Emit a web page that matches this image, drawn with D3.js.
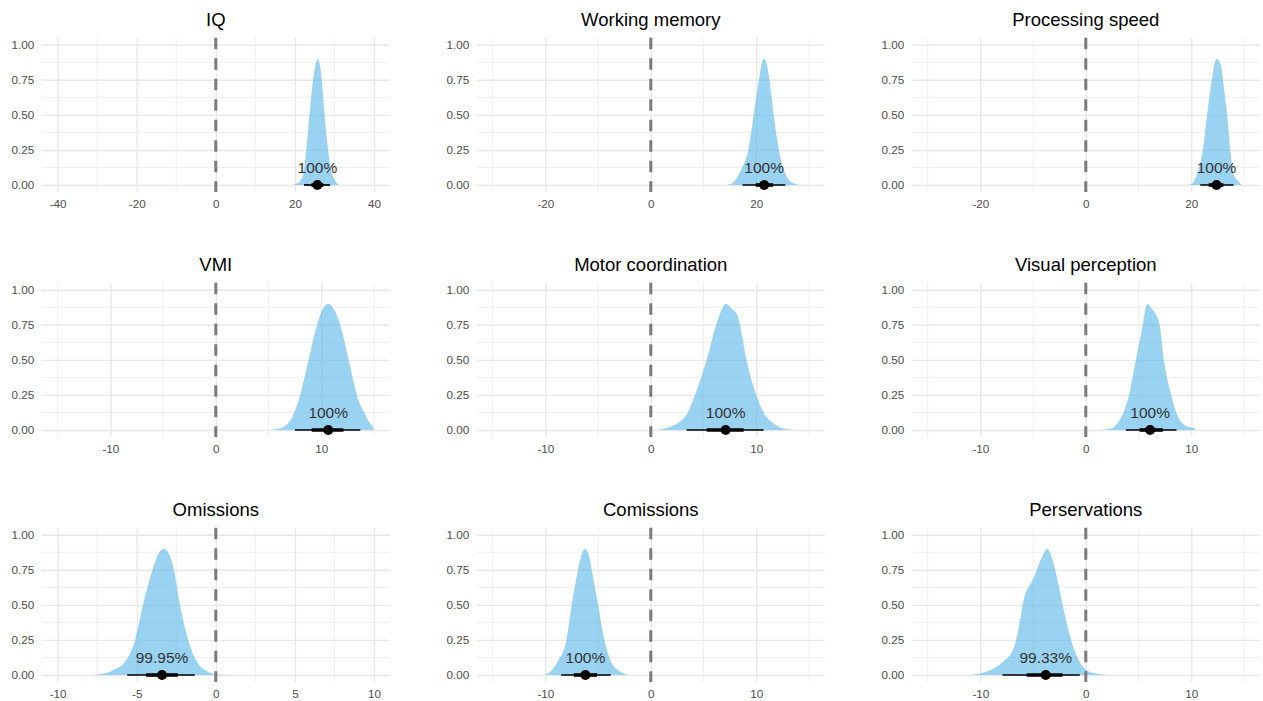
<!DOCTYPE html>
<html>
<head>
<meta charset="utf-8">
<script src="https://cdn.jsdelivr.net/npm/d3@7"></script>
<style>
  body { margin: 0; background: #fff; }
  text { font-family: "Liberation Sans", Arial, sans-serif; }
  .tick-label { font-size: 11.7px; fill: #4d4d4d; }
  .panel-title { font-size: 18.5px; fill: #000; }
  .prob-label { font-size: 15.5px; fill: #333; }
</style>
</head>
<body>
<script>
//panel titles
const titles = ['IQ', 'Working memory', 'Processing speed',
  'VMI', 'Motor coordination', 'Visual perception',
  'Omissions', 'Comissions', 'Perservations']

//half width of each x-axis (symmetric around 0)
const xLimits = [44, 33, 33, 16.5, 16.5, 16.5, 11, 16.5, 16.5]

//x-axis tick labels and minor gridlines
const xTicks = [
  [-40, -20, 0, 20, 40], [-20, 0, 20], [-20, 0, 20],
  [-10, 0, 10], [-10, 0, 10], [-10, 0, 10],
  [-10, -5, 0, 5, 10], [-10, 0, 10], [-10, 0, 10]
]
const xMinor = [
  [-30, -10, 10, 30], [-30, -10, 10, 30], [-30, -10, 10, 30],
  [-15, -5, 5, 15], [-15, -5, 5, 15], [-15, -5, 5, 15],
  [-7.5, -2.5, 2.5, 7.5], [-15, -5, 5, 15], [-15, -5, 5, 15]
]

//y-axis
const yTicks = [0, 0.25, 0.5, 0.75, 1]
const yMinor = [0.125, 0.375, 0.625, 0.875]

//posterior densities [x, scaled density]
const densities = [
  [[19.5, 0], [20.5, 0.01], [21.4, 0.03], [22.2, 0.09], [22.9, 0.25], [23.7, 0.5], [24.6, 0.75], [25.3, 0.87], [25.85, 0.9], [26.3, 0.86], [26.8, 0.75], [27.5, 0.5], [28.4, 0.25], [29.2, 0.1], [30.0, 0.04], [31.2, 0]],
  [[14.2, 0], [15.3, 0.01], [16.1, 0.04], [17.4, 0.13], [18.5, 0.25], [19.5, 0.5], [20.5, 0.75], [21.0, 0.86], [21.5, 0.9], [22.0, 0.86], [22.5, 0.75], [23.3, 0.5], [24.3, 0.25], [25.2, 0.11], [26.1, 0.04], [27.2, 0.01], [28.3, 0]],
  [[19.4, 0], [20.2, 0.01], [20.8, 0.05], [21.6, 0.14], [22.2, 0.25], [23.0, 0.5], [23.9, 0.75], [24.4, 0.86], [24.8, 0.9], [25.3, 0.88], [25.7, 0.84], [26.0, 0.75], [26.8, 0.5], [27.4, 0.25], [28.0, 0.08], [28.8, 0.03], [29.6, 0]],
  [[5.0, 0], [6.0, 0.01], [6.6, 0.03], [7.3, 0.1], [8.0, 0.25], [8.8, 0.5], [9.6, 0.75], [10.2, 0.87], [10.66, 0.9], [11.2, 0.86], [11.8, 0.75], [12.6, 0.5], [13.2, 0.3], [13.5, 0.22], [14.1, 0.12], [14.6, 0.05], [14.95, 0.015], [15.0, 0]],
  [[0.6, 0], [1.7, 0.02], [2.6, 0.05], [3.3, 0.1], [4.2, 0.25], [5.3, 0.5], [6.2, 0.75], [6.8, 0.87], [7.1, 0.9], [7.6, 0.87], [8.2, 0.82], [8.45, 0.75], [9.07, 0.5], [10.0, 0.25], [10.9, 0.1], [11.6, 0.05], [12.4, 0.015], [13.7, 0]],
  [[1.3, 0], [2.4, 0.01], [2.8, 0.03], [3.2, 0.07], [3.6, 0.13], [4.1, 0.25], [4.75, 0.5], [5.4, 0.75], [5.65, 0.86], [5.85, 0.9], [6.2, 0.87], [6.5, 0.84], [7.0, 0.75], [7.4, 0.5], [8.1, 0.25], [8.7, 0.1], [9.5, 0.03], [10.3, 0.01], [10.4, 0]],
  [[-7.85, 0], [-7.1, 0.01], [-6.4, 0.04], [-5.85, 0.08], [-5.1, 0.25], [-4.6, 0.5], [-4.0, 0.75], [-3.6, 0.87], [-3.26, 0.9], [-2.95, 0.86], [-2.65, 0.75], [-2.27, 0.5], [-1.75, 0.25], [-1.22, 0.1], [-0.6, 0.03], [0, 0.006], [1.1, 0]],
  [[-10.2, 0], [-9.6, 0.02], [-8.8, 0.1], [-8.0, 0.25], [-7.5, 0.5], [-6.9, 0.75], [-6.55, 0.86], [-6.24, 0.9], [-5.9, 0.86], [-5.6, 0.75], [-5.0, 0.5], [-4.4, 0.25], [-3.8, 0.1], [-3.2, 0.04], [-2.8, 0.02], [-2.05, 0]],
  [[-11.1, 0], [-10.0, 0.01], [-9.2, 0.03], [-7.9, 0.09], [-6.8, 0.2], [-6.3, 0.36], [-5.85, 0.55], [-5.3, 0.64], [-4.9, 0.7], [-4.1, 0.85], [-3.64, 0.9], [-3.2, 0.83], [-2.6, 0.65], [-2.2, 0.5], [-1.4, 0.25], [-0.63, 0.1], [0.16, 0.03], [0.95, 0.01], [2.06, 0]]
]

//point estimates and intervals (66% thick, 95% thin)
const points = [25.7, 21.5, 24.8, 10.66, 7.1, 6.1, -3.4, -6.2, -3.8]
const thickIntervals = [[24.2, 27.2], [19.9, 23.2], [23.3, 26.1], [9.1, 12.1], [5.3, 8.8], [5.1, 7.3], [-4.4, -2.4], [-7.3, -5.1], [-5.6, -2.2]]
const thinIntervals = [[22.3, 28.9], [17.4, 25.5], [21.7, 28.0], [7.5, 13.7], [3.4, 10.7], [3.8, 8.6], [-5.6, -1.33], [-8.5, -3.8], [-7.9, -0.57]]

//probability of direction labels
const probLabels = ['100%', '100%', '100%', '100%', '100%', '100%', '99.95%', '100%', '99.33%']

const width = 1263
const height = 701

//panel geometry
const panelWidth = 348
const colStep = 435
const rowStep = 245
const firstLeft = 41.8
const zeroY = 185
const unitY = 140.3

const fillColor = '#56B4E9'
const gridColor = '#e8e8e8'

const svg = d3.select('body')
  .append('svg')
  .attr('width', width)
  .attr('height', height)

titles.forEach((title, i) => {
  const col = i % 3
  const row = Math.floor(i / 3)
  const left = firstLeft + col * colStep
  const y0 = zeroY + row * rowStep

  //=================SCALES===================
  const xScale = d3.scaleLinear()
    .domain([-xLimits[i], xLimits[i]])
    .range([left, left + panelWidth])

  const yScale = d3.scaleLinear()
    .domain([0, 1])
    .range([y0, y0 - unitY])

  const top = yScale(1.05)
  const bottom = yScale(-0.05)

  const g = svg.append('g').attr('class', 'panel')

  //=================GRID===================
  g.selectAll('.y-minor')
    .data(yMinor)
    .enter()
    .append('line')
    .attr('x1', left).attr('x2', left + panelWidth)
    .attr('y1', d => yScale(d)).attr('y2', d => yScale(d))
    .attr('stroke', gridColor).attr('stroke-width', 0.7)

  g.selectAll('.x-minor')
    .data(xMinor[i])
    .enter()
    .append('line')
    .attr('x1', d => xScale(d)).attr('x2', d => xScale(d))
    .attr('y1', top).attr('y2', bottom)
    .attr('stroke', gridColor).attr('stroke-width', 0.7)

  //axes drawn with d3 and restyled as grid lines
  const xAxis = d3.axisBottom(xScale)
    .tickValues(xTicks[i])
    .tickFormat(d3.format('d'))
    .tickSize(-(bottom - top))
    .tickPadding(7)

  const xAxisGroup = g.append('g')
    .attr('transform', `translate(0,${bottom})`)
    .call(xAxis)
  xAxisGroup.select('.domain').remove()
  xAxisGroup.selectAll('line').attr('stroke', gridColor).attr('stroke-width', 1.4)
  xAxisGroup.selectAll('text')
    .attr('class', 'tick-label')
    .attr('fill', '#4d4d4d')
    .attr('dy', null)
    .attr('y', 15.5)
    .text(d => d < 0 ? '-' + Math.abs(d) : d)

  const yAxis = d3.axisLeft(yScale)
    .tickValues(yTicks)
    .tickFormat(d3.format('.2f'))
    .tickSize(-panelWidth)
    .tickPadding(7.5)

  const yAxisGroup = g.append('g')
    .attr('transform', `translate(${left},0)`)
    .call(yAxis)
  yAxisGroup.select('.domain').remove()
  yAxisGroup.selectAll('line').attr('stroke', gridColor).attr('stroke-width', 1.4)
  yAxisGroup.selectAll('text').attr('class', 'tick-label').attr('fill', '#4d4d4d')

  //=================DENSITY===================
  const area = d3.area()
    .x(d => xScale(d[0]))
    .y0(yScale(0))
    .y1(d => yScale(d[1]))
    .curve(d3.curveMonotoneX)

  g.append('path')
    .datum(densities[i])
    .attr('d', area)
    .attr('fill', fillColor)
    .attr('fill-opacity', 0.6)

  //dashed reference line at zero
  g.append('line')
    .attr('x1', xScale(0)).attr('x2', xScale(0))
    .attr('y1', top).attr('y2', bottom)
    .attr('stroke', '#7a7a7a')
    .attr('stroke-width', 3)
    .attr('stroke-dasharray', '11.5,9')

  //=================INTERVALS===================
  g.append('line')
    .attr('x1', xScale(thinIntervals[i][0])).attr('x2', xScale(thinIntervals[i][1]))
    .attr('y1', yScale(0)).attr('y2', yScale(0))
    .attr('stroke', '#000').attr('stroke-width', 1.7)

  g.append('line')
    .attr('x1', xScale(thickIntervals[i][0])).attr('x2', xScale(thickIntervals[i][1]))
    .attr('y1', yScale(0)).attr('y2', yScale(0))
    .attr('stroke', '#000').attr('stroke-width', 3.6)

  g.append('circle')
    .attr('cx', xScale(points[i]))
    .attr('cy', yScale(0))
    .attr('r', 5)
    .attr('fill', '#000')

  g.append('text')
    .attr('class', 'prob-label')
    .attr('x', xScale(points[i]))
    .attr('y', yScale(0) - 12)
    .attr('text-anchor', 'middle')
    .text(probLabels[i])

  //=================TITLE===================
  g.append('text')
    .attr('class', 'panel-title')
    .attr('x', left + panelWidth / 2)
    .attr('y', 26 + row * rowStep)
    .attr('text-anchor', 'middle')
    .text(title)
})
</script>
</body>
</html>
